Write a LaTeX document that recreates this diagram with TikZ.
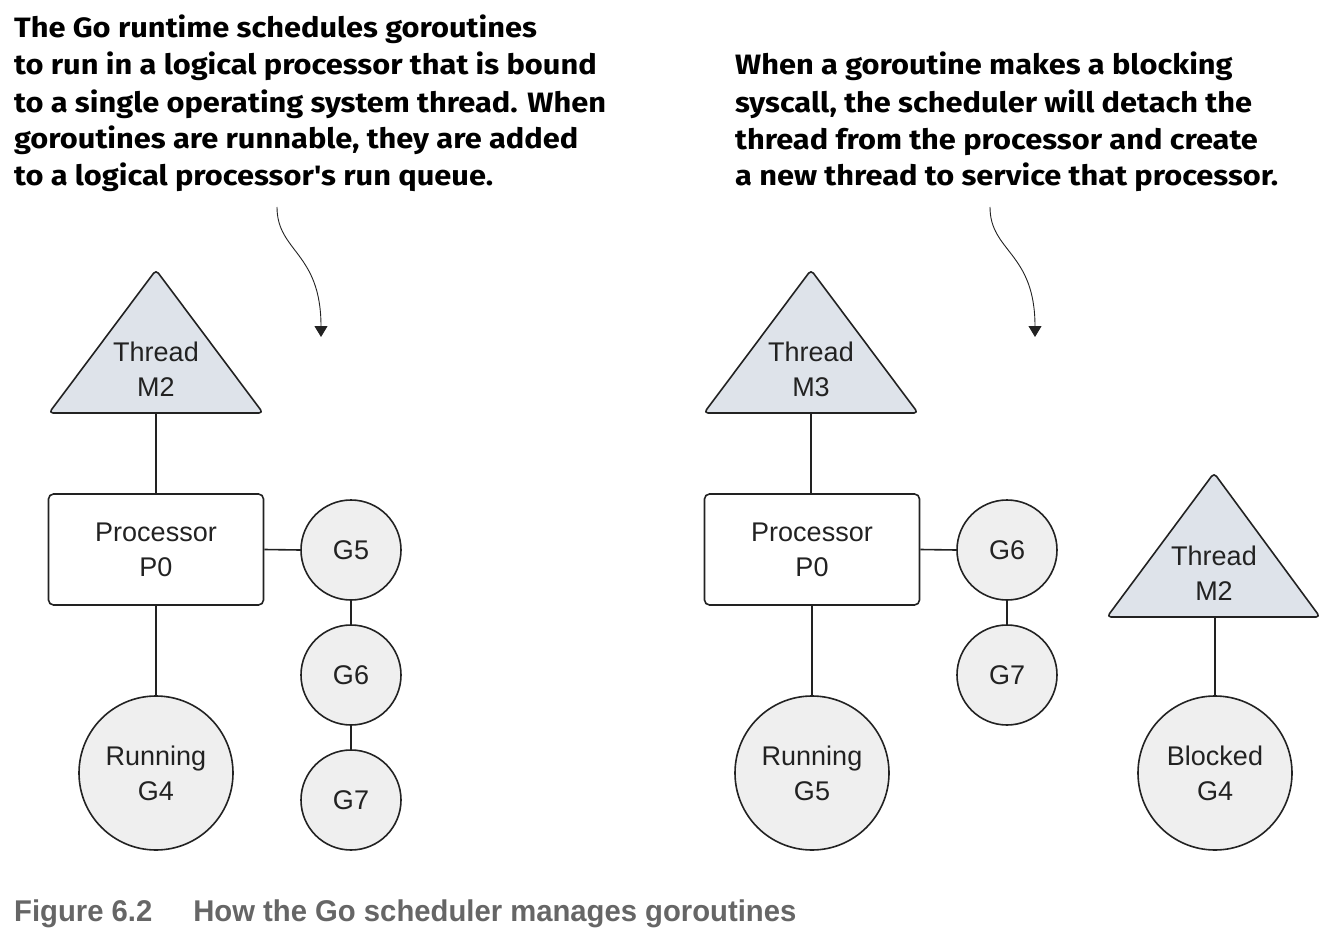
\documentclass[tikz,border=0pt]{standalone}
\usepackage{fontspec}
\setmainfont{Liberation Sans}
\newfontfamily\headfont{Fira Sans}[FakeStretch=1.1]
\newfontfamily\capfont{Liberation Sans}[FakeStretch=0.975]
\usetikzlibrary{arrows.meta}
\definecolor{trifill}{HTML}{DEE3EA}
\definecolor{gfill}{HTML}{EFEFEF}
\definecolor{ink}{HTML}{222222}
\definecolor{capgray}{HTML}{666666}
\tikzset{
  shapeline/.style={draw=ink, line width=1.6pt},
  tri/.style={shapeline, fill=trifill, rounded corners=4pt, line join=round},
  lbl/.style={align=center, font=\fontsize{27}{35}\selectfont, text=ink, inner sep=0pt},
  proc/.style={shapeline, fill=white, rounded corners=5pt, minimum width=215pt, minimum height=111pt, lbl},
  gor/.style={shapeline, fill=gfill, circle, minimum size=154pt, lbl},
  gsm/.style={shapeline, fill=gfill, circle, minimum size=100pt, lbl},
  conn/.style={draw=ink, line width=1.6pt},
  ptr/.style={draw=ink, line width=0.9pt, -{Triangle[length=11pt,width=13pt]}},
  head/.style={align=left, anchor=base west, inner sep=0pt, text=black,
    font=\headfont\bfseries\fontsize{28}{37}\selectfont},
}
\begin{document}
\begin{tikzpicture}[x=1pt,y=-1pt]
\useasboundingbox (0,0) rectangle (1334,936);

% header texts (anchored at the baseline of their last line)
\node[head] (h1) at (14,186) {The Go runtime schedules goroutines\\
to run in a logical processor that is bound\\
to a single operating system thread. When\\
goroutines are runnable, they are added\\
to a logical processor's run queue.};
\node[head] (h2) at (735,186) {When a goroutine makes a blocking\\
syscall, the scheduler will detach the\\
thread from the processor and create\\
a new thread to service that processor.};

% pointers
\coordinate (a1s) at (277,207);
\coordinate (a1e) at (321,337);
\draw[ptr] (a1s) .. controls (277,252) and (321,252) .. (a1e);
\coordinate (a2s) at (990,207);
\coordinate (a2e) at (1035,337);
\draw[ptr] (a2s) .. controls (990,252) and (1035,252) .. (a2e);

% ---------- left diagram ----------
\filldraw[tri] (156,270) -- (263,413) -- (49,413) -- cycle;
\node[lbl] (m2a) at (156,369.5) {Thread\\M2};
\coordinate (m2ab) at (156,413);
\node[proc] (p0a) at (156,549.5) {Processor\\P0};
\node[gor] (g4a) at (156,773) {Running\\G4};
\node[gsm] (g5a) at (351,550) {G5};
\node[gsm] (g6a) at (351,675) {G6};
\node[gsm] (g7a) at (351,800) {G7};
\draw[conn] (m2ab) -- (p0a.north);
\draw[conn] (p0a.south) -- (g4a.north);
\draw[conn] (p0a.east) -- (g5a.west);
\draw[conn] (g5a.south) -- (g6a.north);
\draw[conn] (g6a.south) -- (g7a.north);

% ---------- right diagram ----------
\filldraw[tri] (811,270) -- (918,413) -- (704,413) -- cycle;
\node[lbl] (m3b) at (811,369.5) {Thread\\M3};
\coordinate (m3bb) at (811,413);
\node[proc] (p0b) at (812,549.5) {Processor\\P0};
\node[gor] (g5b) at (812,773) {Running\\G5};
\node[gsm] (g6b) at (1007,550) {G6};
\node[gsm] (g7b) at (1007,675) {G7};
\draw[conn] (m3bb) -- (m3bb |- p0b.north);
\draw[conn] (p0b.south) -- (g5b.north);
\draw[conn] (p0b.east) -- (g6b.west);
\draw[conn] (g6b.south) -- (g7b.north);

\filldraw[tri] (1214,473) -- (1320,617) -- (1107,617) -- cycle;
\node[lbl] (m2b) at (1214,573.5) {Thread\\M2};
\coordinate (m2bb) at (1215,617);
\node[gor] (g4b) at (1215,773) {Blocked\\G4};
\draw[conn] (m2bb) -- (g4b.north);

% caption
\node[anchor=base west, inner sep=0pt, text=capgray,
  font=\capfont\bfseries\fontsize{30}{34}\selectfont] (cap) at (14,921)
  {Figure 6.2\hspace{41pt}How the Go scheduler manages goroutines};
\end{tikzpicture}
\end{document}
